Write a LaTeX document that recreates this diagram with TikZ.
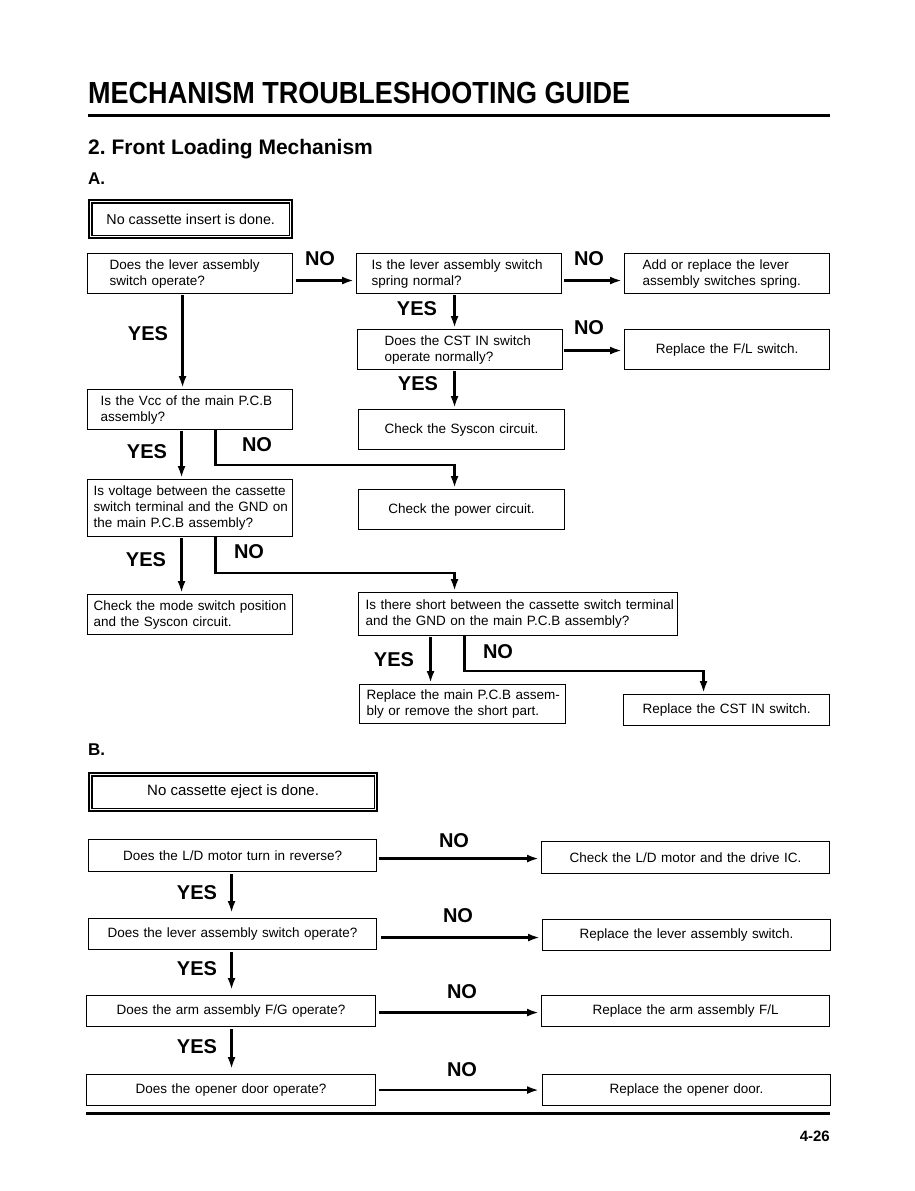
\documentclass[tikz,border=0pt]{standalone}
\usepackage{fontspec}
\setmainfont{Liberation Sans}
\usetikzlibrary{arrows.meta,calc}
\frenchspacing
\newcommand\boxfnt{\fontsize{13.5}{16}\selectfont}
\newcommand\dboxfnt{\fontsize{15}{18}\selectfont}
\newcommand\dboxfntA{\fontsize{14.3}{17}\selectfont}
\newcommand\lblfnt{\fontsize{20}{22}\selectfont\bfseries}
\begin{document}
\begin{tikzpicture}[x=1pt,y=-1pt,
  box/.style={draw, line width=1.1pt, anchor=north west, align=left, inner ysep=0pt, font=\boxfnt},
  cbox/.style={box, align=center, inner xsep=4pt},
  dbox/.style={draw, line width=2.2pt, anchor=north west, inner sep=0pt, font=\dboxfnt},
  dinner/.style={line width=1.2pt},
  lbl/.style={inner sep=0pt, font=\lblfnt},
  arr/.style={line width=2.7pt, -{Latex[length=12pt,width=8pt]}},
  rulew/.style={line width=3pt}]
\useasboundingbox (0,0) rectangle (915,1191);
\fill[white] (0,0) rectangle (915,1191);

% headings
\node[anchor=base west, inner sep=0pt, font=\fontsize{30.5}{32}\selectfont\bfseries] (title) at (88,103) {\scalebox{0.886}[1]{MECHANISM TROUBLESHOOTING GUIDE}};
\coordinate (r1a) at (88,115);
\coordinate (r1b) at (830,115);
\draw[rulew] (r1a) -- (r1b);
\node[anchor=base west, inner sep=0pt, font=\fontsize{21}{24}\selectfont\bfseries] (sub) at (88,154) {2. Front Loading Mechanism};
\node[anchor=base west, inner sep=0pt, font=\fontsize{17}{20}\selectfont\bfseries] (secA) at (88,184) {A.};
\node[anchor=base west, inner sep=0pt, font=\fontsize{17}{20}\selectfont\bfseries] (secB) at (88,755) {B.};
\coordinate (r2a) at (86,1113);
\coordinate (r2b) at (830,1113);
\draw[rulew] (r2a) -- (r2b);
\node[anchor=base east, inner sep=0pt, font=\fontsize{15}{18}\selectfont\bfseries] (page) at (830,1141) {4-26};

% ---------- Section A ----------
\node[dbox, font=\dboxfntA, minimum width=203pt, minimum height=38pt] (A0) at (88.1,199.1) {No cassette insert is done.};
\draw[dinner] ([shift={(3.8,3.8)}]A0.north west) rectangle ([shift={(-3.8,-3.8)}]A0.south east);

\node[box, text width=161pt, inner xsep=22pt, minimum height=40pt] (a1) at (87,253) {\mbox{Does the lever assembly}\\\mbox{switch operate?}};
\node[box, text width=175pt, inner xsep=15pt, minimum height=40pt] (a2) at (356,253) {\mbox{Is the lever assembly switch}\\\mbox{spring normal?}};
\node[box, text width=169pt, inner xsep=18pt, minimum height=40pt] (a3) at (624,253) {\mbox{Add or replace the lever}\\\mbox{assembly switches spring.}};
\node[box, text width=151pt, inner xsep=27pt, minimum height=40pt] (a4) at (357,329) {\mbox{Does the CST IN switch}\\\mbox{operate normally?}};
\node[cbox, text width=197pt, minimum height=40pt] (a5) at (624,329) {Replace the F/L switch.};
\node[cbox, text width=198pt, minimum height=40pt] (a6) at (358,409) {Check the Syscon circuit.};
\node[box, text width=179pt, inner xsep=13pt, minimum height=40pt] (a7) at (87,389) {\mbox{Is the Vcc of the main P.C.B}\\\mbox{assembly?}};
\node[box, text width=193pt, inner xsep=6pt, minimum height=57pt] (a8) at (87,479) {\mbox{Is voltage between the cassette}\\\mbox{switch terminal and the GND on}\\\mbox{the main P.C.B assembly?}};
\node[cbox, text width=198pt, minimum height=40pt] (a9) at (358,489) {Check the power circuit.};
\node[box, text width=193pt, inner xsep=6pt, minimum height=40pt] (a10) at (87,594) {\mbox{Check the mode switch position}\\\mbox{and the Syscon circuit.}};
\node[box, text width=305pt, inner xsep=7pt, minimum height=43pt] (a11) at (358,592) {\mbox{Is there short between the cassette switch terminal}\\\mbox{and the GND on the main P.C.B assembly?}};
\node[box, text width=192pt, inner xsep=7pt, minimum height=39pt] (a12) at (359,684) {\mbox{Replace the main P.C.B assem-}\\\mbox{bly or remove the short part.}};
\node[cbox, text width=198pt, minimum height=31pt] (a13) at (623,694) {Replace the CST IN switch.};

% connectors A
\draw[arr] ([shift={(3,7)}]a1.east) -- ([shift={(-2,7)}]a2.west);
\draw[arr] ([shift={(2,7)}]a2.east) -- ([shift={(-2,7)}]a3.west);
\draw[arr, shorten <=1pt, shorten >=1pt] ([xshift=-4.5pt]a2.south) -- ([xshift=-4.5pt]a2.south |- a4.north);
\draw[arr] ([shift={(1,1)}]a4.east) -- ([shift={(-2,1)}]a5.west);
\draw[arr, shorten <=1pt, shorten >=1pt] ([xshift=-5.5pt]a4.south) -- ([xshift=-5.5pt]a4.south |- a6.north);
\draw[arr, shorten <=1pt, shorten >=1pt] ([xshift=-7.5pt]a1.south) -- ([xshift=-7.5pt]a1.south |- a7.north);
\draw[arr, shorten <=1pt, shorten >=1pt] ([xshift=-8.5pt]a7.south) -- ([xshift=-8.5pt]a7.south |- a8.north);
\draw[arr, shorten >=1pt] ([xshift=25.5pt]a7.south) -- ++(0,35) -| ([xshift=-7pt]a9.north);
\draw[arr, shorten <=1pt, shorten >=1pt] ([xshift=-8.5pt]a8.south) -- ([xshift=-8.5pt]a8.south |- a10.north);
\draw[arr, shorten >=1pt] ([xshift=25.5pt]a8.south) -- ++(0,36) -| ([xshift=-63.5pt]a11.north);
\draw[arr, shorten <=1pt, shorten >=1pt] ([xshift=-87.5pt]a11.south) -- ([xshift=-87.5pt]a11.south |- a12.north);
\draw[arr, shorten >=1pt] ([xshift=-53.5pt]a11.south) -- ++(0,35) -| ([xshift=-23pt]a13.north);

% labels A
\node[lbl] (n1) at (320,259) {NO};
\node[lbl] (n2) at (589,259) {NO};
\node[lbl] (y1) at (417,309) {YES};
\node[lbl] (n3) at (589,328) {NO};
\node[lbl] (y2) at (418,384) {YES};
\node[lbl] (y3) at (148,334) {YES};
\node[lbl] (y4) at (147,452) {YES};
\node[lbl] (n4) at (257,445) {NO};
\node[lbl] (y5) at (146,560) {YES};
\node[lbl] (n5) at (249,552) {NO};
\node[lbl] (y6) at (394,660) {YES};
\node[lbl] (n6) at (498,652) {NO};

% ---------- Section B ----------
\node[dbox, minimum width=287.8pt, minimum height=37.8pt] (B0) at (88.1,772.1) {No cassette eject is done.};
\draw[dinner] ([shift={(3.8,3.8)}]B0.north west) rectangle ([shift={(-3.8,-3.8)}]B0.south east);

\node[cbox, text width=280pt, minimum height=32pt] (b1) at (88,839) {Does the L/D motor turn in reverse?};
\node[cbox, text width=280pt, minimum height=32pt] (b2) at (541,841) {Check the L/D motor and the drive IC.};
\node[cbox, text width=280pt, minimum height=31pt] (b3) at (88,918) {Does the lever assembly switch operate?};
\node[cbox, text width=280pt, minimum height=31pt] (b4) at (542,919) {Replace the lever assembly switch.};
\node[cbox, text width=281pt, minimum height=31pt] (b5) at (86,995) {Does the arm assembly F/G operate?};
\node[cbox, text width=280pt, minimum height=31pt] (b6) at (541,995) {Replace the arm assembly F/L};
\node[cbox, text width=281pt, minimum height=31pt] (b7) at (86,1074) {Does the opener door operate?};
\node[cbox, text width=280pt, minimum height=31pt] (b8) at (542,1074) {Replace the opener door.};

% connectors B
\draw[arr] ([shift={(2,3)}]b1.east) -- ([shift={(-2,1)}]b2.west);
\draw[arr] ([shift={(4,3.5)}]b3.east) -- ([shift={(-2,2.5)}]b4.west);
\draw[arr] ([shift={(3,1.5)}]b5.east) -- ([shift={(-2,1.5)}]b6.west);
\draw[arr] ([shift={(3,0)}]b7.east) -- ([shift={(-3,0)}]b8.west);
\draw[arr, shorten <=2pt, shorten >=5pt] ([xshift=-1pt]b1.south) -- ([xshift=-1pt]b1.south |- b3.north);
\draw[arr, shorten <=2pt, shorten >=5pt] ([xshift=-1pt]b3.south) -- ([xshift=-1pt]b3.south |- b5.north);
\draw[arr, shorten <=2pt, shorten >=5pt] ([xshift=0.5pt]b5.south) -- ([xshift=0.5pt]b5.south |- b7.north);

% labels B
\node[lbl] (bn1) at (454,841) {NO};
\node[lbl] (bn2) at (458,916) {NO};
\node[lbl] (bn3) at (462,992) {NO};
\node[lbl] (bn4) at (462,1070) {NO};
\node[lbl] (by1) at (197,893) {YES};
\node[lbl] (by2) at (197,969) {YES};
\node[lbl] (by3) at (197,1047) {YES};
\end{tikzpicture}
\end{document}
